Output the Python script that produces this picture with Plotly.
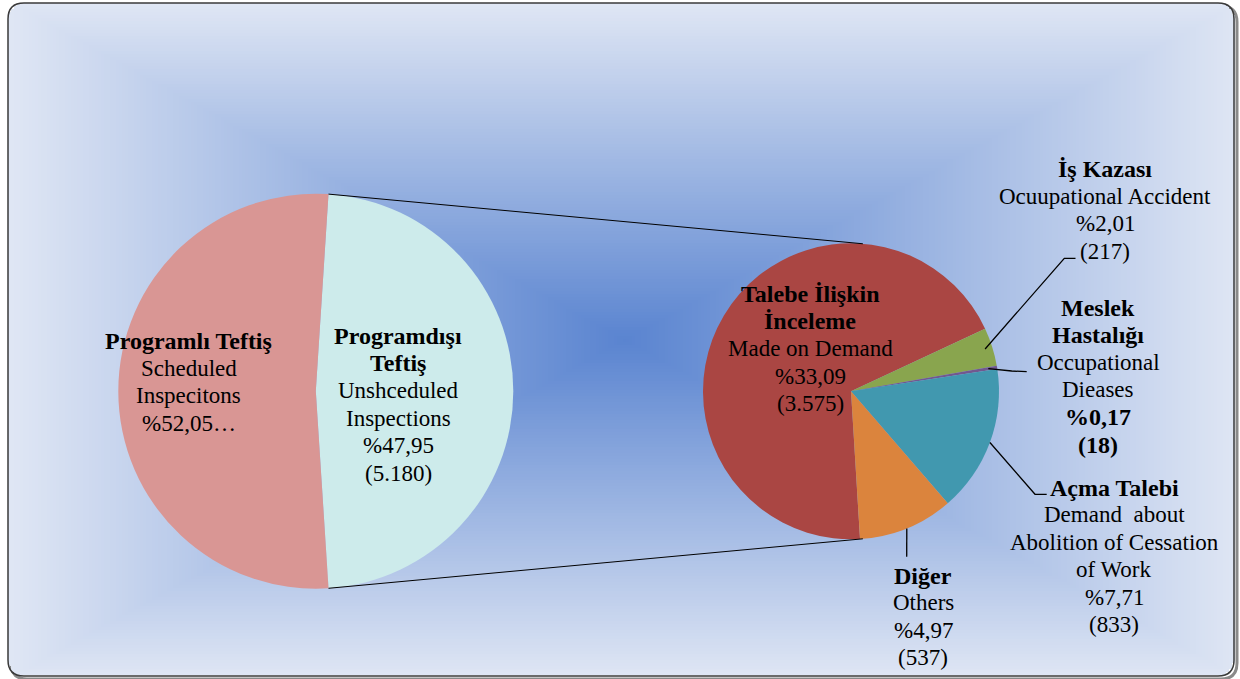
import numpy as np
import plotly.graph_objects as go

W, H = 1240, 679

# ---------------- data ----------------
main_title_lines = [["Programdışı", "Teftiş"], ["Programlı Teftiş"]]
main_en_lines = [["Unshceduled", "Inspections"], ["Scheduled", "Inspecitons"]]
main_pcts = [47.95, 52.05]
main_counts = [5180, None]
main_colors = ["#cdebeb", "#d99694"]

sub_title_lines = [["Talebe İlişkin", "İnceleme"], ["İş Kazası"], ["Meslek", "Hastalığı"],
                   ["Açma Talebi"], ["Diğer"]]
sub_en_lines = [["Made on Demand"], ["Ocuupational Accident"], ["Occupational", "Dieases"],
                ["Demand\u00a0 about", "Abolition of Cessation", "of Work"], ["Others"]]
sub_pcts = [33.09, 2.01, 0.17, 7.71, 4.97]
sub_counts = [3575, 217, 18, 833, 537]
sub_colors = ["#aa4643", "#89a54e", "#71588f", "#4198af", "#db843d"]
sub_bold_values = [False, False, True, False, False]

# ---------------- styling / layout constants (pixels) ----------------
FONT = "Liberation Serif"
FS = 23
FS_BOLD = 24
LINE_H = 27.4

L_CX, L_CY, L_R = 315.8, 391.2, 197.5
R_CX, R_CY, R_R = 851.0, 391.3, 148.0
L_ROT = 90 - main_pcts[0] / sum(main_pcts) * 360 / 2
R_ROT = 176.5
CONNECT_ANG = 4.6

FRAME = (8, 3, 1234, 676)
FRAME_R = 16
GRAD_C = (625, 340)

main_label_pos = [(398, 336), (188.5, 341)]
sub_label_pos = [(810, 294), (1105, 169), (1098, 307.5), (1114, 487.5), (923, 575.5)]
# leader lines: (radius factor for start, elbow, end) ; None = no leader
sub_leaders = [None,
               (0.95, (1064.3, 258.3), (1075.5, 258.3)),
               (0.94, (1011.7, 371.0), (1026.7, 371.7)),
               (1.0, (1035.0, 494.3), (1046.7, 494.3)),
               (1.0, None, (906.7, 556.7))]


def fmt_pct(p, trunc=False):
    s = "%" + f"{p:.2f}".replace(".", ",")
    return s + "…" if trunc else s


def fmt_count(c):
    return "(" + f"{c:,}".replace(",", ".") + ")"


def dom(cx, cy, r):
    return dict(x=[(cx - r) / W, (cx + r) / W], y=[1 - (cy + r) / H, 1 - (cy - r) / H])


fig = go.Figure()

# ---------------- background gradient ----------------
x0, y0, x1, y1 = FRAME
xs = np.arange(x0 + 1.5, x1, 3.0)
ys = np.arange(y0 + 1.5, y1, 3.0)
X, Y = np.meshgrid(xs, ys)
hw = (x1 - x0) / 2
hh = (y1 - y0) / 2
Z = np.maximum(np.abs(X - GRAD_C[0]) / hw, np.abs(Y - GRAD_C[1]) / hh)
Z = np.clip(Z, 0, 1)
dx = np.maximum(np.maximum(x0 + FRAME_R - X, X - (x1 - FRAME_R)), 0)
dy = np.maximum(np.maximum(y0 + FRAME_R - Y, Y - (y1 - FRAME_R)), 0)
Z = np.where(dx ** 2 + dy ** 2 > FRAME_R ** 2, np.nan, np.round(Z, 3))
fig.add_trace(go.Heatmap(
    x=xs, y=ys, z=Z, zmin=0, zmax=1, showscale=False, hoverinfo="skip",
    colorscale=[[0, "#5a84d0"], [0.5, "#9cb5e2"], [1, "#dfe6f4"]],
))

# ---------------- pies ----------------
fig.add_trace(go.Pie(
    values=main_pcts, labels=[" ".join(t) for t in main_title_lines],
    marker=dict(colors=main_colors, line=dict(width=0)),
    sort=False, direction="clockwise", rotation=L_ROT,
    textinfo="none", hoverinfo="label+percent", showlegend=False,
    domain=dom(L_CX, L_CY, L_R),
))
fig.add_trace(go.Pie(
    values=sub_counts, labels=[" ".join(t) for t in sub_title_lines],
    marker=dict(colors=sub_colors, line=dict(width=0)),
    sort=False, direction="clockwise", rotation=R_ROT,
    textinfo="none", hoverinfo="label+value", showlegend=False,
    domain=dom(R_CX, R_CY, R_R),
))

# ---------------- shapes ----------------
def rrect_path(a, b, c, d, r):
    return (f"M {a + r},{b} L {c - r},{b} Q {c},{b} {c},{b + r} L {c},{d - r} "
            f"Q {c},{d} {c - r},{d} L {a + r},{d} Q {a},{d} {a},{d - r} "
            f"L {a},{b + r} Q {a},{b} {a + r},{b} Z")


shapes = []
shapes.append(dict(type="path", xref="x", yref="y", layer="below",
                   path=rrect_path(x0 + 3, y0 + 3, x1 + 3, y1 + 3, FRAME_R),
                   line=dict(color="#8a8a8a", width=3)))
shapes.append(dict(type="path", xref="x", yref="y", layer="above",
                   path=rrect_path(x0, y0, x1, y1, FRAME_R),
                   line=dict(color="#3a3a3a", width=1.5)))


def pt(cx, cy, r, ang):
    a = np.radians(ang)
    return cx + r * np.sin(a), cy - r * np.cos(a)


# connector lines between pies
tot_main = sum(main_pcts)
l_top = pt(L_CX, L_CY, L_R, L_ROT)
l_bot = pt(L_CX, L_CY, L_R, L_ROT + main_pcts[0] / tot_main * 360)
r_top = pt(R_CX, R_CY, R_R, CONNECT_ANG)
r_bot = pt(R_CX, R_CY, R_R, 180 - CONNECT_ANG)
for (ax_, ay_), (bx_, by_) in [(l_top, r_top), (l_bot, r_bot)]:
    shapes.append(dict(type="line", xref="x", yref="y", layer="above",
                       x0=ax_, y0=ay_, x1=bx_, y1=by_, line=dict(color="black", width=1)))

# leader lines
tot_sub = sum(sub_counts)
cum = 0
for i, c in enumerate(sub_counts):
    mid = R_ROT + (cum + c / 2) / tot_sub * 360
    cum += c
    ld = sub_leaders[i]
    if ld is None:
        continue
    f, elbow, end = ld
    sx, sy = pt(R_CX, R_CY, R_R * f, mid)
    pts = [(sx, sy)] + ([elbow] if elbow else []) + [end]
    path = "M " + " L ".join(f"{px:.1f},{py:.1f}" for px, py in pts)
    shapes.append(dict(type="path", xref="x", yref="y", layer="above", path=path,
                       line=dict(color="black", width=1.3)))

# ---------------- labels ----------------
annotations = []


def add_label(lines, pos):
    x, y = pos
    for k, (txt, bold) in enumerate(lines):
        annotations.append(dict(
            x=x, y=y + k * LINE_H, xref="x", yref="y", xanchor="center", yanchor="middle",
            text=f"<b>{txt}</b>" if bold else txt, showarrow=False,
            font=dict(family=FONT, size=FS_BOLD if bold else FS, color="black")))


for i in range(2):
    lines = [(t, True) for t in main_title_lines[i]] + [(t, False) for t in main_en_lines[i]]
    lines.append((fmt_pct(main_pcts[i], trunc=main_counts[i] is None), False))
    if main_counts[i] is not None:
        lines.append((fmt_count(main_counts[i]), False))
    add_label(lines, main_label_pos[i])

for i in range(len(sub_counts)):
    lines = [(t, True) for t in sub_title_lines[i]] + [(t, False) for t in sub_en_lines[i]]
    lines.append((fmt_pct(sub_pcts[i]), sub_bold_values[i]))
    lines.append((fmt_count(sub_counts[i]), sub_bold_values[i]))
    add_label(lines, sub_label_pos[i])

fig.update_layout(
    width=W, height=H, autosize=False,
    margin=dict(l=0, r=0, t=0, b=0, pad=0),
    paper_bgcolor="white", plot_bgcolor="rgba(0,0,0,0)",
    xaxis=dict(range=[0, W], visible=False, fixedrange=True, domain=[0, 1]),
    yaxis=dict(range=[H, 0], visible=False, fixedrange=True, domain=[0, 1]),
    shapes=shapes, annotations=annotations, showlegend=False,
)

fig.write_html("out.html", config={"displayModeBar": False},
               post_script="document.body.style.margin='0';")
